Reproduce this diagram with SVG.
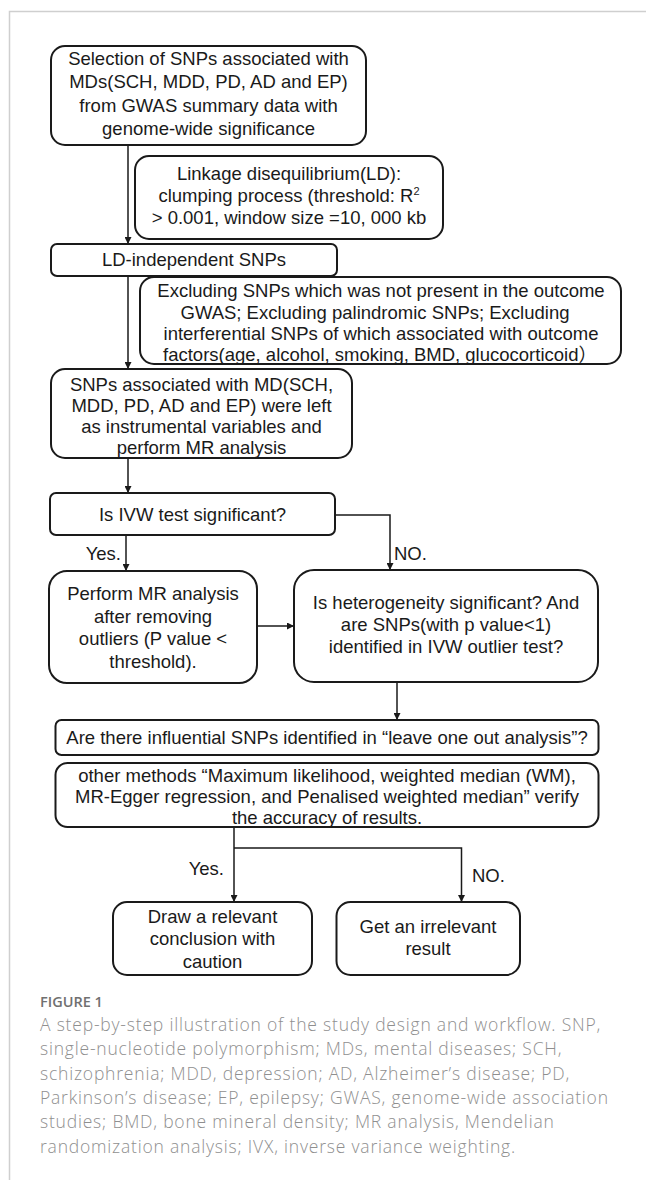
<svg xmlns="http://www.w3.org/2000/svg" width="646" height="1180" viewBox="0 0 646 1180">
<defs>
<marker id="ah" viewBox="0 0 10 10" refX="10" refY="5" markerWidth="7" markerHeight="7" markerUnits="userSpaceOnUse" orient="auto">
<path d="M0,0 L10,5 L0,10 z" fill="#1a1a1a"/>
</marker>
<style>
.box{fill:#fff;stroke:#1a1a1a;stroke-width:2}
.t{font-family:"Liberation Sans",Arial,"Noto Sans CJK SC",sans-serif;font-size:18.5px;fill:#1a1a1a;text-anchor:middle}
.lbl{font-family:"Liberation Sans",Arial,sans-serif;font-size:18.5px;fill:#1a1a1a}
.c{fill:none;stroke:#1a1a1a;stroke-width:1.5}
.frame{fill:none;stroke:#cfcfcf;stroke-width:1.5}
.cap{font-family:"Open Sans","Noto Sans",sans-serif;font-size:17.5px;letter-spacing:0.8px;fill:#8f8f8f;font-weight:300}
.fig{font-family:"Open Sans","Noto Sans",sans-serif;font-size:14.5px;fill:#707070;font-weight:600}
</style>
</defs>
<rect width="646" height="1180" fill="#fff"/>
<path class="frame" d="M646,11.5 H9.5 V1180"/>

<g id="connectors">
<line class="c" x1="128" y1="145" x2="128" y2="244" marker-end="url(#ah)"/>
<line class="c" x1="128" y1="276" x2="128" y2="369" marker-end="url(#ah)"/>
<line class="c" x1="128" y1="458" x2="128" y2="493" marker-end="url(#ah)"/>
<line class="c" x1="126" y1="535" x2="126" y2="571" marker-end="url(#ah)"/>
<path class="c" d="M335,515 H390 V570" marker-end="url(#ah)"/>
<line class="c" x1="257" y1="626" x2="294" y2="626" marker-end="url(#ah)"/>
<line class="c" x1="397" y1="682" x2="397" y2="720" marker-end="url(#ah)"/>
<line class="c" x1="234" y1="827" x2="234" y2="902" marker-end="url(#ah)"/>
<path class="c" d="M234,848 H461.5 V902" marker-end="url(#ah)"/>
<text class="lbl" x="121" y="560" text-anchor="end">Yes.</text>
<text class="lbl" x="394" y="560">NO.</text>
<text class="lbl" x="224" y="875" text-anchor="end">Yes.</text>
<text class="lbl" x="472" y="882">NO.</text>
</g>

<g id="n1">
<rect class="box" x="51" y="46" width="315" height="99" rx="14"/>
<text class="t" x="208.5" y="65">Selection of SNPs associated with</text>
<text class="t" x="208.5" y="88">MDs(SCH, MDD, PD, AD and EP)</text>
<text class="t" x="208.5" y="111.5">from GWAS summary data with</text>
<text class="t" x="208.5" y="135">genome-wide significance</text>
</g>

<g id="n2">
<rect class="box" x="135" y="156" width="308" height="83" rx="14"/>
<text class="t" x="289" y="180">Linkage disequilibrium(LD):</text>
<text class="t" x="289" y="202">clumping process (threshold: R<tspan font-size="11" dy="-7">2</tspan></text>
<text class="t" x="289" y="224">&gt; 0.001, window size =10, 000 kb</text>
</g>

<g id="n3">
<rect class="box" x="51" y="244" width="286" height="32" rx="6"/>
<text class="t" x="194" y="266">LD-independent SNPs</text>
</g>

<g id="n4">
<rect class="box" x="140" y="277" width="481" height="87" rx="14"/>
<text class="t" x="381" y="297">Excluding SNPs which was not present in the outcome</text>
<text class="t" x="375" y="318.5">GWAS; Excluding palindromic SNPs; Excluding</text>
<text class="t" x="381" y="340">interferential SNPs of which associated with outcome</text>
<text class="t" x="380" y="361">factors(age, alcohol, smoking, BMD, glucocorticoid）</text>
</g>

<g id="n5">
<rect class="box" x="51" y="369" width="301" height="89" rx="14"/>
<text class="t" x="201.5" y="391">SNPs associated with MD(SCH,</text>
<text class="t" x="201.5" y="412">MDD, PD, AD and EP) were left</text>
<text class="t" x="201.5" y="433">as instrumental variables and</text>
<text class="t" x="201.5" y="454">perform MR analysis</text>
</g>

<g id="n6">
<rect class="box" x="50" y="493" width="285" height="42" rx="6"/>
<text class="t" x="192.5" y="521">Is IVW test significant?</text>
</g>

<g id="n7">
<rect class="box" x="49" y="571" width="208" height="112" rx="18"/>
<text class="t" x="153" y="600">Perform MR analysis</text>
<text class="t" x="153" y="622.5">after removing</text>
<text class="t" x="153" y="645">outliers (P value &lt;</text>
<text class="t" x="153" y="667.5">threshold).</text>
</g>

<g id="n8">
<rect class="box" x="294" y="570" width="304" height="112" rx="20"/>
<text class="t" x="446" y="609">Is heterogeneity significant? And</text>
<text class="t" x="446" y="631">are SNPs(with p  value&lt;1)</text>
<text class="t" x="446" y="653">identified in IVW outlier test?</text>
</g>

<g id="n9">
<rect class="box" x="55.5" y="720" width="543" height="35" rx="6"/>
<text class="t" x="327" y="743.5">Are there influential SNPs identified in “leave one out analysis”?</text>
</g>

<g id="n10">
<rect class="box" x="55.5" y="763" width="543" height="64" rx="12"/>
<text class="t" x="327" y="782">other methods “Maximum likelihood, weighted median (WM),</text>
<text class="t" x="327" y="803">MR-Egger regression, and Penalised weighted median” verify</text>
<text class="t" x="327" y="824">the accuracy of results.</text>
</g>

<g id="n11">
<rect class="box" x="113" y="902" width="199" height="73" rx="14"/>
<text class="t" x="212.5" y="923">Draw a relevant</text>
<text class="t" x="212.5" y="945">conclusion with</text>
<text class="t" x="212.5" y="967.5">caution</text>
</g>

<g id="n12">
<rect class="box" x="336.5" y="902" width="183.5" height="73" rx="14"/>
<text class="t" x="428" y="933">Get an irrelevant</text>
<text class="t" x="428" y="955">result</text>
</g>

<g id="caption">
<text class="fig" x="40" y="1007">FIGURE 1</text>
<text class="cap" x="40" y="1031">A step-by-step illustration of the study design and workflow. SNP,</text>
<text class="cap" x="40" y="1055.3">single-nucleotide polymorphism; MDs, mental diseases; SCH,</text>
<text class="cap" x="40" y="1079.6">schizophrenia; MDD, depression; AD, Alzheimer’s disease; PD,</text>
<text class="cap" x="40" y="1103.9">Parkinson’s disease; EP, epilepsy; GWAS, genome-wide association</text>
<text class="cap" x="40" y="1128.2">studies; BMD, bone mineral density; MR analysis, Mendelian</text>
<text class="cap" x="40" y="1152.5">randomization analysis; IVX, inverse variance weighting.</text>
</g>
</svg>
